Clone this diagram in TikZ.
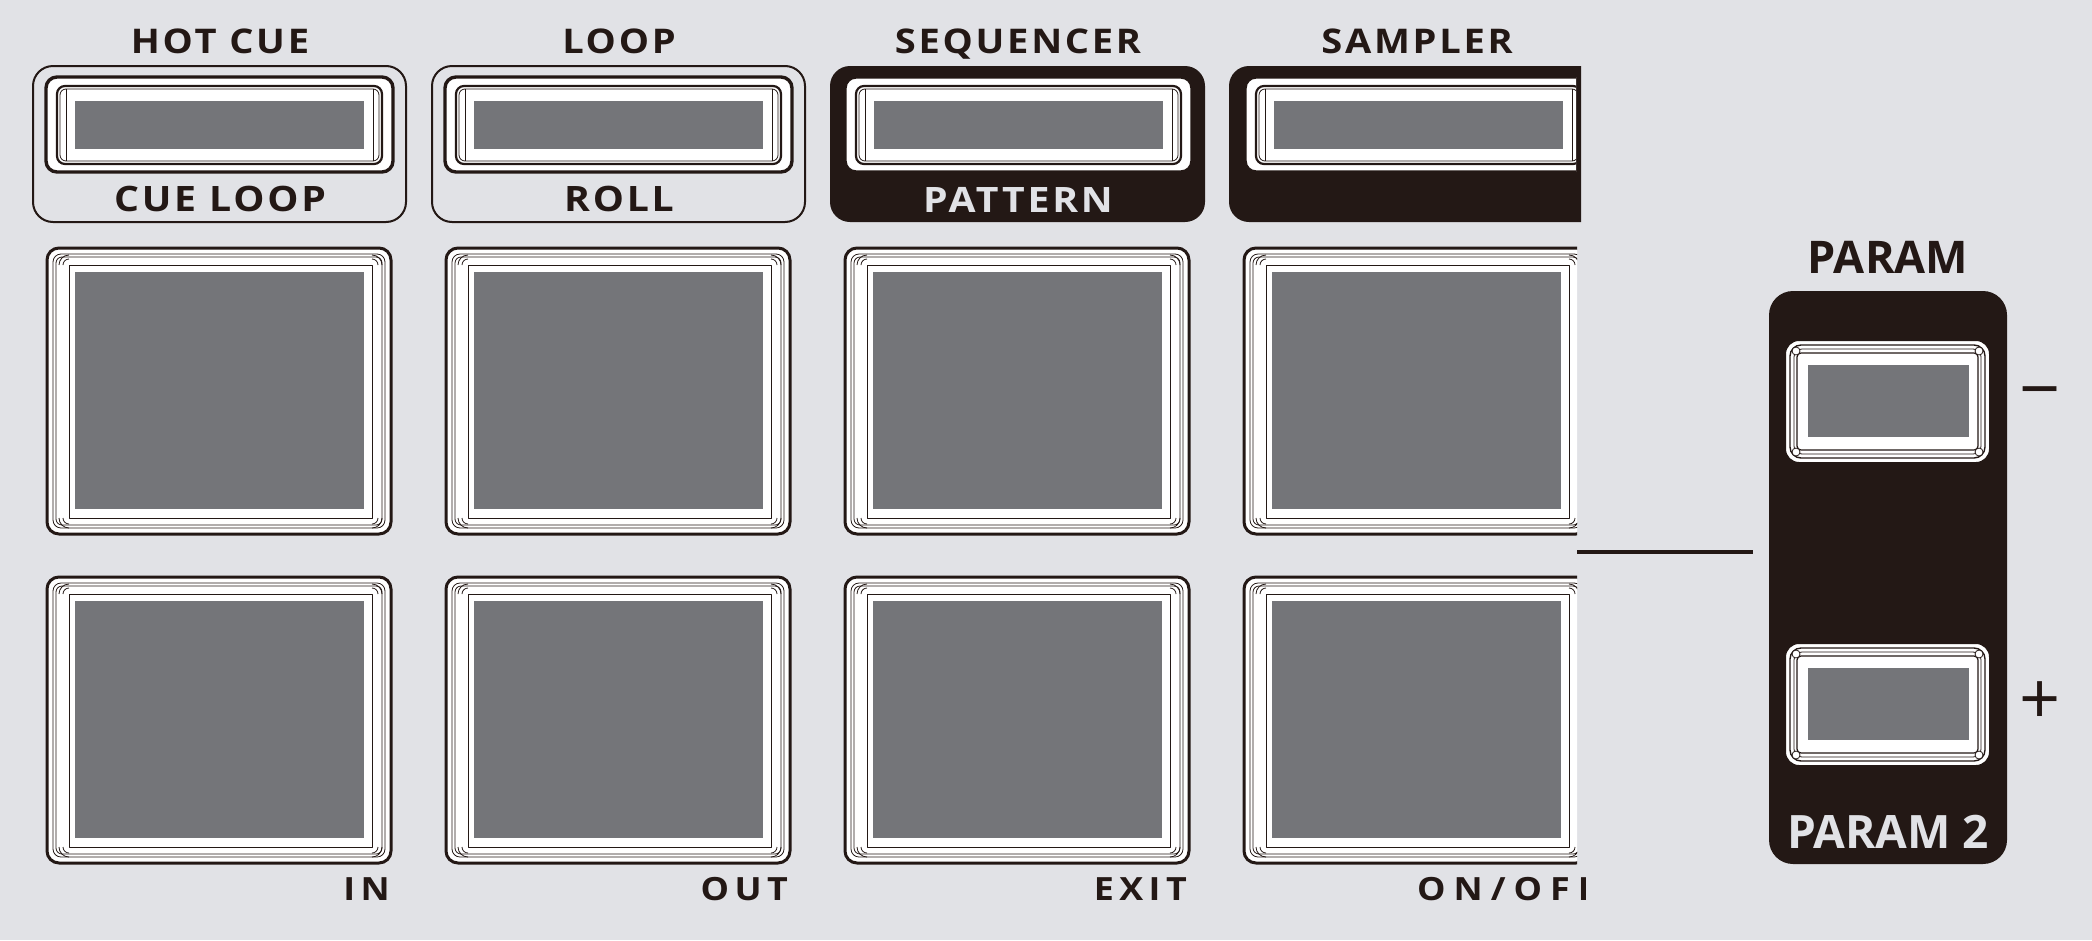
\documentclass[tikz,border=0pt]{standalone}
\usepackage{fontspec}
\setmainfont{Open Sans}
\newfontfamily\lblfam{Open Sans}[FakeStretch=1.12, LetterSpace=8]
\newfontfamily\padfam{Open Sans}[FakeStretch=1.12, LetterSpace=17]
\newfontfamily\swfam{Open Sans}[FakeStretch=1.12, LetterSpace=25]
\definecolor{ink}{HTML}{231815}
\definecolor{panel}{HTML}{E1E2E6}
\definecolor{lens}{HTML}{747579}

\newcommand{\fsz}[1]{\lblfam\fontsize{#1}{#1}\selectfont\bfseries}
\newcommand{\psz}[1]{\fontsize{#1}{#1}\selectfont\bfseries}

% performance pad, top-left corner at (#1,#2)
\newcommand{\padbox}[2]{%
\begin{scope}[shift={(#1,#2)}]
\draw[line width=3, fill=white, rounded corners=12] (0,0) rectangle (344,286);
\draw[line width=0.8, rounded corners=8] (6,6) rectangle (338,280);
\draw[line width=0.8, rounded corners=6] (9,9) rectangle (335,277);
\draw[line width=0.9, fill=white] (22,17) rectangle (325,270);
\fill[lens] (28,24) rectangle (317,261);
\foreach \cx/\cy/\a in {22/17/180, 325/17/270, 325/270/0, 22/270/90}
  \draw[line width=0.8] (\cx,\cy) ++(\a:6) arc (\a:\a+90:6)
                        (\cx,\cy) ++(\a:10) arc (\a:\a+90:10);
\end{scope}}

% mode button, top-left corner at (#1,#2)
\newcommand{\stripbtn}[2]{%
\begin{scope}[shift={(#1,#2)}]
\draw[line width=3.4, fill=white, rounded corners=11] (0,0) rectangle (347,95);
\draw[line width=2.2, rounded corners=8] (11,9) rectangle (336,87);
\draw[line width=0.8, rounded corners=6] (14,12) rectangle (333,84);
\draw[line width=0.8] (20,12) -- (20,84) (327,12) -- (327,84);
\fill[lens] (29,24) rectangle (318,72);
\end{scope}}

% parameter button, top-left corner at (#1,#2)
\newcommand{\parambtn}[2]{%
\begin{scope}[shift={(#1,#2)}]
\draw[line width=2, fill=white, rounded corners=14] (0,0) rectangle (205,123);
\draw[line width=1.4, rounded corners=11] (5,5) rectangle (200,118);
\draw[line width=0.8, rounded corners=8] (9,9) rectangle (196,114);
\draw[line width=1.2, fill=white, rounded corners=4] (12,13) rectangle (193,110);
\fill[lens] (23,25) rectangle (184,97);
\foreach \cx/\cy in {11/11, 194/11, 194/112, 11/112}
  \draw[line width=0.8, fill=white] (\cx,\cy) circle (4);
\end{scope}}

\begin{document}
\begin{tikzpicture}[x=1pt, y=-1pt, color=ink, line join=round]
\tikzstyle{every node}=[inner sep=0, font=\fsz{34}];
\fill[panel] (0,0) rectangle (2092,940);

% mode frames
\draw[line width=2, rounded corners=20] (33,66) rectangle (406,222);
\draw[line width=2, rounded corners=20] (432,66) rectangle (805,222);
\fill[rounded corners=20] (830,66) rectangle (1205,222);
\begin{scope}
\clip (0,0) rectangle (1581,940);
\fill[rounded corners=20] (1229,66) rectangle (1640,222);
\end{scope}

% mode buttons
\stripbtn{46}{77}
\stripbtn{445}{77}
\stripbtn{845}{77}
\begin{scope}
\clip (0,0) rectangle (1576,940);
\stripbtn{1245}{77}
\end{scope}

% pads
\foreach \px in {47, 446, 845} {
  \padbox{\px}{248}
  \padbox{\px}{577}
}
\begin{scope}
\clip (0,0) rectangle (1577,940);
\padbox{1244}{248}
\padbox{1244}{577}
\end{scope}

% mode labels
\node[anchor=base] (hotcue) at (220,53) {HOT CUE};
\node[anchor=base] (loop) at (619,53) {LOOP};
\node[anchor=base] (sequencer) at (1018,53) {SEQUENCER};
\node[anchor=base] (sampler) at (1417,53) {SAMPLER};
\node[anchor=base, font=\fsz{35}] (cueloop) at (220,211) {CUE LOOP};
\node[anchor=base, font=\fsz{35}] (roll) at (619,211) {ROLL};
\node[anchor=base, font=\fsz{35}, text=panel] (pattern) at (1018,212) {PATTERN};

% pad labels
\node[anchor=base east, font=\fsz{32}\padfam\bfseries] (in) at (390,900) {IN};
\node[anchor=base east, font=\fsz{32}\padfam\bfseries] (out) at (788,900) {OUT};
\node[anchor=base east, font=\fsz{32}\padfam\bfseries] (exit) at (1187,900) {EXIT};
\begin{scope}
\clip (0,0) rectangle (1585,940);
\node[anchor=base west, font=\fsz{32}\swfam\bfseries] (onoff) at (1417,900) {ON/OFF};
\end{scope}

% param section
\coordinate (lnL) at (1577,552);
\coordinate (lnR) at (1753,552);
\draw[line width=4] (lnL) -- (lnR);
\fill[rounded corners=24] (1769,291) rectangle (2007,864);
\parambtn{1785}{340}
\parambtn{1785}{643}
\node[anchor=base, font=\psz{45}] (param) at (1888,273) {PARAM};
\node[anchor=base, font=\psz{46}, text=panel] (param2) at (1888,848) {PARAM 2};
\node[font=\fontsize{72}{72}\selectfont] (minus) at (2040,401) {−};
\node[font=\fontsize{72}{72}\selectfont] (plus) at (2040,703) {+};
\end{tikzpicture}
\end{document}
